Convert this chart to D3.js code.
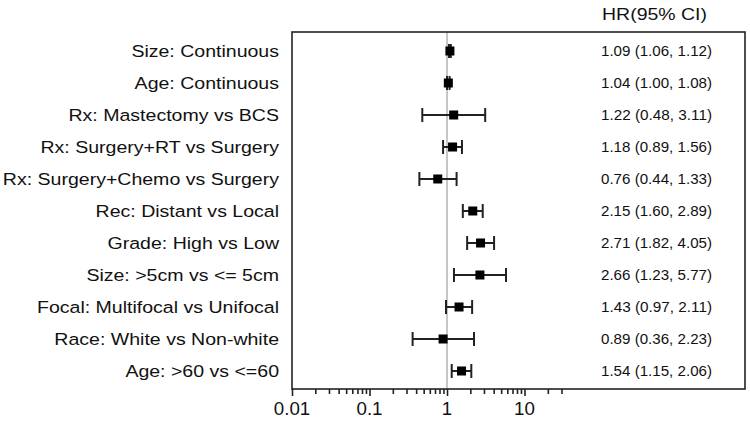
<!DOCTYPE html>
<html>
<head>
<meta charset="utf-8">
<script src="https://cdn.jsdelivr.net/npm/d3@7"></script>
<style>
html,body{margin:0;padding:0;background:#fff;}
svg{display:block;}
text{font-family:"Liberation Sans",Arial,Helvetica,sans-serif;fill:#111;}
</style>
</head>
<body>
<svg id="chart" width="750" height="427"></svg>
<script>
const labels = [
  "Size: Continuous",
  "Age: Continuous",
  "Rx: Mastectomy vs BCS",
  "Rx: Surgery+RT vs Surgery",
  "Rx: Surgery+Chemo vs Surgery",
  "Rec: Distant vs Local",
  "Grade: High vs Low",
  "Size: >5cm vs <= 5cm",
  "Focal: Multifocal vs Unifocal",
  "Race: White vs Non-white",
  "Age: >60 vs <=60"
];
const hr    = [1.09, 1.04, 1.22, 1.18, 0.76, 2.15, 2.71, 2.66, 1.43, 0.89, 1.54];
const lower = [1.06, 1.00, 0.48, 0.89, 0.44, 1.60, 1.82, 1.23, 0.97, 0.36, 1.15];
const upper = [1.12, 1.08, 3.11, 1.56, 1.33, 2.89, 4.05, 5.77, 2.11, 2.23, 2.06];
const majorTicks = [0.01, 0.1, 1, 10];
const minorTicks = [0.02,0.03,0.04,0.05,0.06,0.07,0.08,0.09,
                    0.2,0.3,0.4,0.5,0.6,0.7,0.8,0.9,
                    2,3,4,5,6,7,8,9,20,30];
const headerText = "HR(95% CI)";

const svg = d3.select("#chart");
const boxL = 292, boxR = 745, boxT = 32, boxB = 389;

const x = d3.scaleLog().domain([0.01, 100]).range([292, 602]);
const y = d3.scalePoint().domain(labels).range([51, 371]);

const fmt = d3.format(".2f");

// reference line at HR = 1
svg.append("line")
  .attr("x1", x(1)).attr("x2", x(1))
  .attr("y1", boxT).attr("y2", boxB)
  .attr("stroke", "#b8b8b8").attr("stroke-width", 1.6);

// box
svg.append("rect")
  .attr("x", boxL).attr("y", boxT)
  .attr("width", boxR - boxL).attr("height", boxB - boxT)
  .attr("fill", "none").attr("stroke", "#222").attr("stroke-width", 1.6);

// axis ticks
const axisG = svg.append("g").attr("transform", `translate(0,${boxB})`);
axisG.call(d3.axisBottom(x).tickValues(minorTicks).tickSize(5).tickFormat(""))
  .call(g => g.select(".domain").remove());
axisG.append("g").call(d3.axisBottom(x).tickValues(majorTicks).tickSize(7).tickFormat(""))
  .call(g => g.select(".domain").remove());
axisG.selectAll("line").attr("stroke", "#222").attr("stroke-width", 1.6);

// tick labels
svg.append("g").selectAll("text").data(majorTicks).join("text")
  .attr("transform", d => `translate(${x(d)},414.5) scale(1.07,1)`)
  .attr("text-anchor", "middle")
  .style("font-size", "17.5px")
  .text(d => String(d));

// rows
const rows = labels.map((l, i) => ({label: l, hr: hr[i], lo: lower[i], hi: upper[i]}));
const rowG = svg.append("g").selectAll("g").data(rows).join("g")
  .attr("transform", d => `translate(0,${y(d.label)})`);

rowG.append("line")
  .attr("x1", d => x(d.lo)).attr("x2", d => x(d.hi))
  .attr("stroke", "#222").attr("stroke-width", 2);
rowG.append("line")
  .attr("x1", d => x(d.lo)).attr("x2", d => x(d.lo))
  .attr("y1", -7).attr("y2", 7)
  .attr("stroke", "#222").attr("stroke-width", 2);
rowG.append("line")
  .attr("x1", d => x(d.hi)).attr("x2", d => x(d.hi))
  .attr("y1", -7).attr("y2", 7)
  .attr("stroke", "#222").attr("stroke-width", 2);
rowG.append("rect")
  .attr("x", d => x(d.hr) - 4.5).attr("y", -4.5)
  .attr("width", 9).attr("height", 9)
  .attr("fill", "#000");

// left labels
rowG.append("text")
  .attr("transform", "translate(279,6) scale(1.15,1)")
  .attr("text-anchor", "end")
  .style("font-size", "17px")
  .text(d => d.label);

// right HR text
rowG.append("text")
  .attr("x", 601).attr("y", 5.2)
  .attr("textLength", 111)
  .attr("lengthAdjust", "spacingAndGlyphs")
  .style("font-size", "14.5px")
  .text(d => `${fmt(d.hr)} (${fmt(d.lo)}, ${fmt(d.hi)})`);

// header
svg.append("text")
  .attr("x", 602).attr("y", 20)
  .attr("textLength", 105)
  .attr("lengthAdjust", "spacingAndGlyphs")
  .style("font-size", "17px")
  .text(headerText);
</script>
</body>
</html>
